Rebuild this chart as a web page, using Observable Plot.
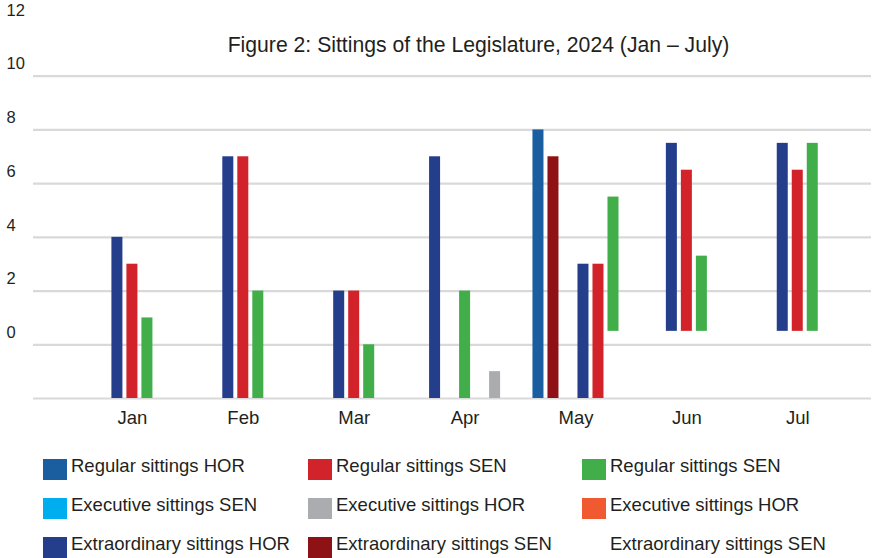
<!DOCTYPE html>
<html>
<head>
<meta charset="utf-8">
<script src="https://cdn.jsdelivr.net/npm/d3@7"></script>
<script src="https://cdn.jsdelivr.net/npm/@observablehq/plot@0.6"></script>
<style>
  html, body { margin: 0; padding: 0; background: #fff; }
  body { font-family: "Liberation Sans", Arial, sans-serif; color: #231f20; }
  #wrap { position: relative; width: 874px; height: 558px; overflow: hidden; }
  #title { position: absolute; top: 34.2px; left: 478.5px; transform: translateX(-50%);
           font-size: 21.2px; line-height: 1; white-space: nowrap; color: #231f20; }
  #legend { position: absolute; top: 459px; left: 43px; display: grid;
            grid-template-columns: 265px 274px 268px; grid-auto-rows: 39px; }
  .item { display: flex; align-items: flex-start; }
  .sw { width: 24px; height: 21px; flex: none; }
  .lab { font-size: 18.5px; line-height: 1; margin-left: 4px; position: relative; top: -2.4px; white-space: nowrap; }
  #chart svg g[aria-label="y-axis tick label"] { font-size: 16.5px !important; }
  #chart svg g[aria-label="y-axis tick label"] text { font-size: 16.5px !important; }
</style>
</head>
<body>
<div id="wrap">
  <div id="chart"></div>
  <div id="title"></div>
  <div id="legend"></div>
</div>
<script>
// ---- data ----
const titleText = "Figure 2: Sittings of the Legislature, 2024 (Jan \u2013 July)";
const months = ["Jan", "Feb", "Mar", "Apr", "May", "Jun", "Jul"];
const yTicks = [0, 2, 4, 6, 8, 10, 12];
const seriesNames = [
  "Regular sittings HOR", "Regular sittings SEN", "Regular sittings SEN",
  "Executive sittings SEN", "Executive sittings HOR", "Executive sittings HOR",
  "Extraordinary sittings HOR", "Extraordinary sittings SEN", "Extraordinary sittings SEN"
];
const palette = ["#1b5e9f", "#d2232a", "#41ae4a", "#00aeef", "#abacaf", "#f15a31", "#243e8c", "#8e1116", "none"];

const barMonth  = ["Jan","Jan","Jan","Feb","Feb","Feb","Mar","Mar","Mar","Apr","Apr","Apr","May","May","May","May","May","Jun","Jun","Jun","Jul","Jul","Jul"];
const barSeries = [6,1,2, 6,1,2, 6,1,2, 6,2,4, 0,7,6,1,2, 6,1,2, 6,1,2];
const barSlot   = [0,1,2, 0,1,2, 0,1,2, 0,2,4, 0,1,3,4,5, 0,1,2, 0,1,2];
const barFrom   = [-2,-2,-2, -2,-2,-2, -2,-2,-2, -2,-2,-2, -2,-2,-2,-2,0.5, 0.5,0.5,0.5, 0.5,0.5,0.5];
const barTo     = [4,3,1, 7,7,2, 2,2,0, 7,2,-1, 8,7,3,3,5.5, 7.5,6.5,3.3, 7.5,6.5,7.5];

// ---- build ----
const data = barMonth.map((m, i) => ({
  month: m, mi: months.indexOf(m), series: barSeries[i], slot: barSlot[i], from: barFrom[i], to: barTo[i]
}));
const center = d3.rollup(data, v => (d3.min(v, d => d.slot) + d3.max(v, d => d.slot)) / 2, d => d.month);
const W = 0.1353; // slot width in month units
data.forEach(d => {
  d.x1 = d.mi + (d.slot - center.get(d.month) - 0.5) * W;
  d.x2 = d.x1 + W;
});

const chart = Plot.plot({
  width: 874,
  height: 432,
  marginTop: 22,
  marginBottom: 34,
  marginLeft: 33,
  marginRight: 3,
  style: { fontFamily: "'Liberation Sans', Arial, sans-serif", color: "#231f20", background: "transparent" },
  x: { domain: [-0.892, 6.665] },
  y: { domain: [-2, 12] },
  color: { type: "ordinal", domain: d3.range(seriesNames.length), range: palette },
  marks: [
    Plot.ruleY(d3.range(-2, 11, 2), { stroke: "#d9d9d9", strokeWidth: 2.2 }),
    Plot.rectY(data, { x1: "x1", x2: "x2", y1: "from", y2: "to", fill: "series", insetLeft: 2, insetRight: 2 }),
    Plot.axisX(d3.range(months.length), { tickFormat: i => months[i], tickSize: 0, tickPadding: 12, fontSize: 18.5, label: null }),
    Plot.axisY(yTicks, { tickSize: 0, tickPadding: 27, textAnchor: "start", dy: -12, fontSize: 16.5, label: null })
  ]
});
document.getElementById("chart").appendChild(chart);
document.getElementById("title").textContent = titleText;

const legend = document.getElementById("legend");
seriesNames.forEach((name, i) => {
  const item = document.createElement("div");
  item.className = "item";
  const sw = document.createElement("div");
  sw.className = "sw";
  sw.style.background = palette[i] === "none" ? "transparent" : palette[i];
  const lab = document.createElement("div");
  lab.className = "lab";
  lab.textContent = name;
  item.appendChild(sw);
  item.appendChild(lab);
  legend.appendChild(item);
});
</script>
</body>
</html>
